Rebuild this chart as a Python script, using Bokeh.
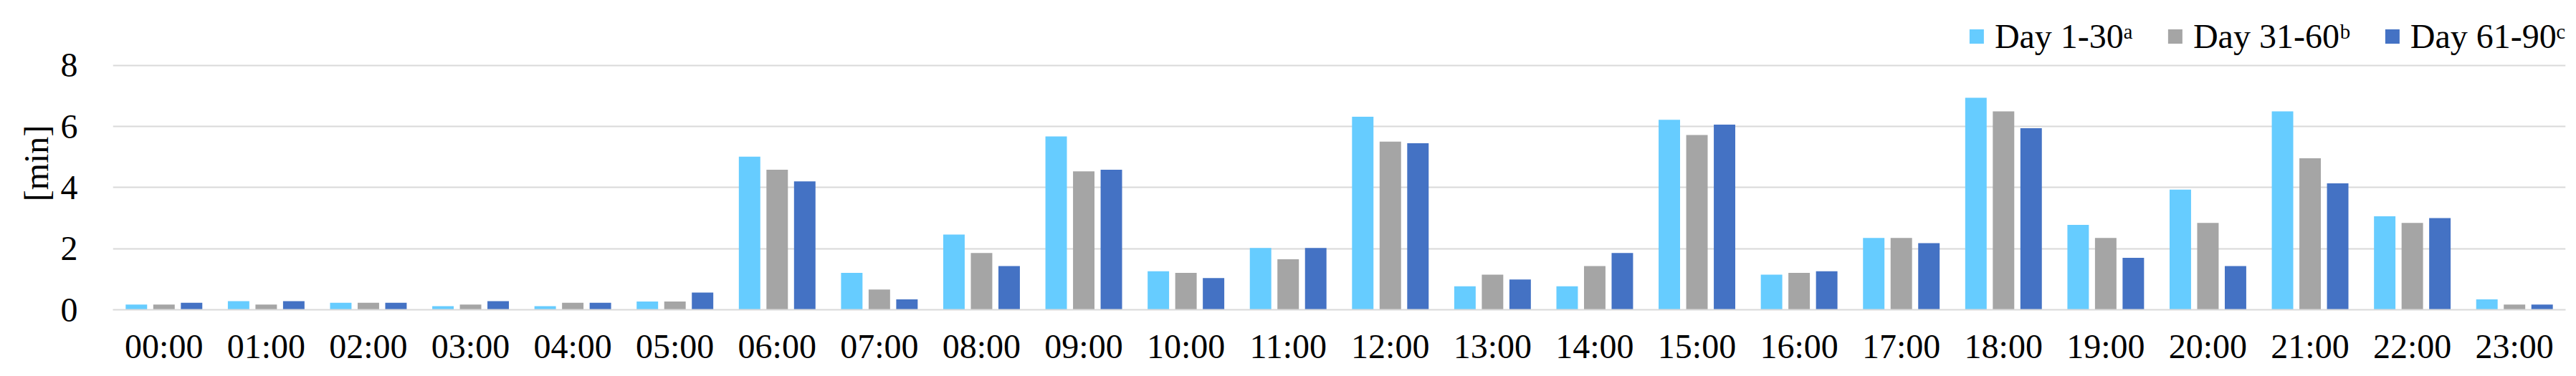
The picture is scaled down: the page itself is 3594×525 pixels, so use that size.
from bokeh.plotting import figure
from bokeh.models import (FactorRange, Range1d, FixedTicker, Legend, LegendItem,
                          Title, ColumnDataSource)
from bokeh.transform import dodge
from bokeh.embed import file_html
from bokeh.resources import INLINE

hours = ["00:00", "01:00", "02:00", "03:00", "04:00", "05:00", "06:00", "07:00",
         "08:00", "09:00", "10:00", "11:00", "12:00", "13:00", "14:00", "15:00",
         "16:00", "17:00", "18:00", "19:00", "20:00", "21:00", "22:00", "23:00"]

day_1_30 = [0.17, 0.28, 0.23, 0.12, 0.12, 0.27, 5.01, 1.21, 2.46, 5.67, 1.26, 2.02,
            6.32, 0.77, 0.77, 6.22, 1.15, 2.35, 6.94, 2.78, 3.93, 6.49, 3.06, 0.34]
day_31_60 = [0.17, 0.17, 0.23, 0.17, 0.23, 0.27, 4.58, 0.66, 1.86, 4.53, 1.21, 1.65,
             5.50, 1.15, 1.43, 5.72, 1.21, 2.35, 6.49, 2.35, 2.84, 4.96, 2.84, 0.17]
day_61_90 = [0.23, 0.28, 0.23, 0.28, 0.23, 0.56, 4.20, 0.34, 1.43, 4.58, 1.04, 2.02,
             5.45, 0.99, 1.86, 6.06, 1.26, 2.18, 5.94, 1.70, 1.43, 4.14, 3.00, 0.17]

series_labels = ["Day 1-30\u1d43", "Day 31-60\u1d47", "Day 61-90\u1d9c"]
colors = ["#66CCFF", "#A5A5A5", "#4472C4"]
y_ticks = [0, 2, 4, 6, 8]
y_title = "[min]"

FONT = "Liberation Serif"
FS = "48px"

src = ColumnDataSource(dict(hour=hours, d1=day_1_30, d2=day_31_60, d3=day_61_90))

p = figure(x_range=FactorRange(factors=hours), y_range=Range1d(0, 9.587),
           width=3594, height=525, output_backend="svg", toolbar_location=None,
           min_border_left=157, min_border_right=15, min_border_top=23,
           min_border_bottom=93)

renderers = []
for col, off, c in zip(["d1", "d2", "d3"], [-0.27, 0.0, 0.27], colors):
    r = p.vbar(x=dodge("hour", off, range=p.x_range), top=col, width=0.21,
               source=src, fill_color=c, line_color=None)
    renderers.append(r)

p.outline_line_color = None
p.background_fill_color = "white"
p.border_fill_color = "white"

p.xgrid.grid_line_color = None
p.ygrid.ticker = FixedTicker(ticks=y_ticks)
p.ygrid.grid_line_color = "#D9D9D9"
p.ygrid.grid_line_width = 2

p.yaxis.ticker = FixedTicker(ticks=y_ticks)
p.yaxis.axis_line_color = None
p.yaxis.major_tick_line_color = None
p.yaxis.minor_tick_line_color = None
p.yaxis.major_label_standoff = 43
p.yaxis.major_label_text_font = FONT
p.yaxis.major_label_text_font_size = FS
p.yaxis.major_label_text_color = "black"

p.xaxis.axis_line_color = "#D9D9D9"
p.xaxis.axis_line_width = 2
p.xaxis.major_tick_line_color = None
p.xaxis.minor_tick_line_color = None
p.xaxis.major_label_standoff = 18
p.xaxis.major_label_text_font = FONT
p.xaxis.major_label_text_font_size = FS
p.xaxis.major_label_text_color = "black"

legend = Legend(items=[LegendItem(label=l, renderers=[r]) for l, r in zip(series_labels, renderers)],
                orientation="horizontal", location="top_right",
                glyph_width=25, glyph_height=25, label_standoff=13, spacing=46,
                padding=10, margin=0, border_line_color=None, background_fill_alpha=0,
                label_text_font=FONT, label_text_font_size=FS, label_text_color="black")
p.add_layout(legend)

ytitle = Title(text=y_title, align="center", offset=-51, standoff=10,
               text_font=FONT, text_font_size=FS, text_font_style="normal",
               text_color="black")
p.add_layout(ytitle, "left")

open("out.html", "w").write(file_html(p, INLINE))
